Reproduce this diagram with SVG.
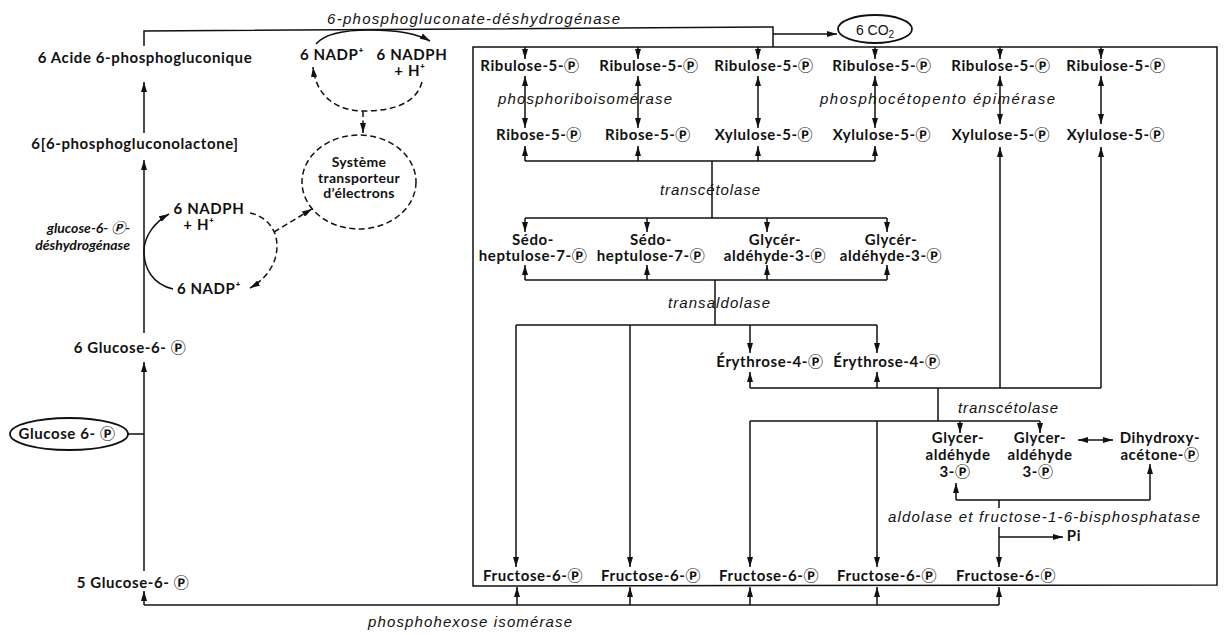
<svg xmlns="http://www.w3.org/2000/svg" width="1224" height="635" viewBox="0 0 1224 635">
<style>
.b{font-family:Lato,'DejaVu Sans','Noto Sans CJK JP',sans-serif;font-weight:700;font-size:15px;fill:#111;text-anchor:middle;letter-spacing:0.6px}
.bi{font-family:Lato,'DejaVu Sans','Noto Sans CJK JP',sans-serif;font-weight:700;font-style:italic;font-size:14px;fill:#111;text-anchor:end}
.i{font-family:'Liberation Sans',Arial,sans-serif;font-style:italic;font-size:15px;fill:#111}
.l{fill:none;stroke:#111;stroke-width:1.5}
.d{fill:none;stroke:#111;stroke-width:1.5;stroke-dasharray:6 3.5}
.e{fill:#fff;stroke:#111;stroke-width:1.8}
.s{font-family:'Liberation Sans',Arial,sans-serif;font-size:14px;fill:#111;text-anchor:middle}
</style>
<defs>
<marker id="a" viewBox="0 0 10 10" refX="10" refY="5" markerWidth="10" markerHeight="6" markerUnits="userSpaceOnUse" orient="auto-start-reverse" preserveAspectRatio="none"><path d="M0,0 L10,5 L0,10 z" fill="#111"/></marker>
</defs>
<rect width="1224" height="635" fill="#fff"/>

<g id="connectors">
<!-- top -->
<path class="l" d="M144,46 L144,31 L773,27 L773,47"/>
<path class="l" d="M773,34 L837,34" marker-end="url(#a)"/>
<path class="l" d="M473,47 H1217 V585 L473,586 Z"/>
<path class="l" d="M525,47 V59" marker-end="url(#a)"/>
<path class="l" d="M638,47 V59" marker-end="url(#a)"/>
<path class="l" d="M758,47 V59" marker-end="url(#a)"/>
<path class="l" d="M875,47 V59" marker-end="url(#a)"/>
<path class="l" d="M1000,47 V59" marker-end="url(#a)"/>
<path class="l" d="M1101,47 V59" marker-end="url(#a)"/>
<!-- ribulose <-> ribose/xylulose -->
<path class="l" d="M525,76 V128" marker-start="url(#a)" marker-end="url(#a)"/>
<path class="l" d="M638,76 V128" marker-start="url(#a)" marker-end="url(#a)"/>
<path class="l" d="M758,76 V128" marker-start="url(#a)" marker-end="url(#a)"/>
<path class="l" d="M875,76 V128" marker-start="url(#a)" marker-end="url(#a)"/>
<path class="l" d="M1000,76 V124" marker-start="url(#a)" marker-end="url(#a)"/>
<path class="l" d="M1101,76 V124" marker-start="url(#a)" marker-end="url(#a)"/>
<!-- transcetolase 1 -->
<path class="l" d="M525,161 H875 M712,161 V218"/>
<path class="l" d="M525,161 V146" marker-end="url(#a)"/>
<path class="l" d="M638,161 V146" marker-end="url(#a)"/>
<path class="l" d="M758,161 V146" marker-end="url(#a)"/>
<path class="l" d="M875,161 V146" marker-end="url(#a)"/>
<path class="l" d="M525,218 H887"/>
<path class="l" d="M525,218 V232" marker-end="url(#a)"/>
<path class="l" d="M647,218 V232" marker-end="url(#a)"/>
<path class="l" d="M767,218 V232" marker-end="url(#a)"/>
<path class="l" d="M887,218 V232" marker-end="url(#a)"/>
<!-- transaldolase -->
<path class="l" d="M525,280 H887 M715,280 V325 M516,325 H877"/>
<path class="l" d="M525,280 V265" marker-end="url(#a)"/>
<path class="l" d="M647,280 V265" marker-end="url(#a)"/>
<path class="l" d="M767,280 V265" marker-end="url(#a)"/>
<path class="l" d="M887,280 V265" marker-end="url(#a)"/>
<path class="l" d="M516,325 V567" marker-end="url(#a)"/>
<path class="l" d="M630,325 V567" marker-end="url(#a)"/>
<path class="l" d="M750,325 V353" marker-end="url(#a)"/>
<path class="l" d="M877,325 V353" marker-end="url(#a)"/>
<!-- transcetolase 2 -->
<path class="l" d="M750,388 H1101 M938,388 V421 M750,421 H1040"/>
<path class="l" d="M750,388 V372" marker-end="url(#a)"/>
<path class="l" d="M877,388 V372" marker-end="url(#a)"/>
<path class="l" d="M1000,388 V147" marker-end="url(#a)"/>
<path class="l" d="M1101,388 V147" marker-end="url(#a)"/>
<path class="l" d="M750,421 V567" marker-end="url(#a)"/>
<path class="l" d="M877,421 V567" marker-end="url(#a)"/>
<path class="l" d="M960,421 V433" marker-end="url(#a)"/>
<path class="l" d="M1040,421 V433" marker-end="url(#a)"/>
<path class="l" d="M1078,440 H1113" marker-start="url(#a)" marker-end="url(#a)"/>
<!-- aldolase -->
<path class="l" d="M956,500 H1150 M999,500 V508"/>
<path class="l" d="M956,500 V483" marker-end="url(#a)"/>
<path class="l" d="M1150,500 V464" marker-end="url(#a)"/>
<path class="l" d="M999,527 V567" marker-end="url(#a)"/>
<path class="l" d="M999,537 H1063" marker-end="url(#a)"/>
<!-- phosphohexose isomerase -->
<path class="l" d="M144,605 H999"/>
<path class="l" d="M517,605 V587" marker-end="url(#a)"/>
<path class="l" d="M630,605 V587" marker-end="url(#a)"/>
<path class="l" d="M750,605 V587" marker-end="url(#a)"/>
<path class="l" d="M877,605 V587" marker-end="url(#a)"/>
<path class="l" d="M999,605 V587" marker-end="url(#a)"/>
<path class="l" d="M144,605 V591" marker-end="url(#a)"/>
<!-- left column -->
<path class="l" d="M144,571 V362" marker-end="url(#a)"/>
<path class="l" d="M128,434 H144"/>
<path class="l" d="M144,333 V160" marker-end="url(#a)"/>
<path class="l" d="M144,133 V82" marker-end="url(#a)"/>
<!-- NADP cycles -->
<path class="l" d="M173,289 C152,284 144,268 144,251 C144,236 155,222 169,214" marker-end="url(#a)"/>
<path class="d" d="M250,213 C265,216 277,228 277,246 C277,264 266,279 250,288" marker-end="url(#a)"/>
<path class="d" d="M274,232 L312,209" marker-end="url(#a)"/>
<path class="l" d="M316,44 C325,33 348,30 370,30 C395,30 416,33 430,41" marker-end="url(#a)"/>
<path class="d" d="M422,82 C416,104 392,111 364,111 C336,111 316,96 313,67" marker-end="url(#a)"/>
<path class="d" d="M363,111 V133" marker-end="url(#a)"/>
</g>

<g id="enzymes">
<text class="i" x="327" y="24" textLength="293" lengthAdjust="spacing">6-phosphogluconate-déshydrogénase</text>
<text class="i" x="498" y="104" textLength="174" lengthAdjust="spacing">phosphoriboisomérase</text>
<text class="i" x="820" y="104" textLength="235" lengthAdjust="spacing">phosphocétopento  épimérase</text>
<text class="i" x="660" y="195" textLength="100" lengthAdjust="spacing">transcétolase</text>
<text class="i" x="668" y="308" textLength="102" lengthAdjust="spacing">transaldolase</text>
<text class="i" x="958" y="413" textLength="100" lengthAdjust="spacing">transcétolase</text>
<text class="i" x="888" y="522" textLength="312" lengthAdjust="spacing">aldolase et fructose-1-6-bisphosphatase</text>
<text class="i" x="368" y="627" textLength="204" lengthAdjust="spacing">phosphohexose isomérase</text>
<text class="bi" x="130" y="233">glucose-6- Ⓟ-</text>
<text class="bi" x="130" y="250">déshydrogénase</text>
</g>

<g id="n-acide"><text class="b" x="145" y="63">6 Acide 6-phosphogluconique</text></g>
<g id="n-lactone"><text class="b" x="135" y="149">6[6-phosphogluconolactone]</text></g>
<g id="n-g6p6"><text class="b" x="130" y="353">6 Glucose-6- Ⓟ</text></g>
<g id="n-g6p"><ellipse class="e" cx="69" cy="434" rx="59" ry="16"/><text class="b" x="67" y="439">Glucose 6- Ⓟ</text></g>
<g id="n-g6p5"><text class="b" x="133" y="588">5 Glucose-6- Ⓟ</text></g>
<g id="n-nadph1"><text class="b" x="209" y="214">6 NADPH</text><text class="b" x="199" y="230">+ H⁺</text></g>
<g id="n-nadp1"><text class="b" x="209" y="294">6 NADP⁺</text></g>
<g id="n-nadp2"><text class="b" x="332" y="60">6 NADP⁺</text></g>
<g id="n-nadph2"><text class="b" x="412" y="60">6 NADPH</text><text class="b" x="410" y="76">+ H⁺</text></g>
<g id="n-electrons"><ellipse class="d" cx="359" cy="182" rx="57" ry="47"/><text class="b" x="359" y="167" style="font-size:14px;letter-spacing:0.3px">Système</text><text class="b" x="359" y="183" style="font-size:14px;letter-spacing:0.3px">transporteur</text><text class="b" x="359" y="198" style="font-size:14px;letter-spacing:0.3px">d’électrons</text></g>
<g id="n-co2"><ellipse class="e" cx="875" cy="29" rx="37" ry="14"/><text class="s" x="875" y="35">6 CO<tspan font-size="10" dy="3">2</tspan></text></g>

<g id="n-ribulose"><text class="b" x="530" y="71">Ribulose-5-Ⓟ</text><text class="b" x="649" y="71">Ribulose-5-Ⓟ</text><text class="b" x="764" y="71">Ribulose-5-Ⓟ</text><text class="b" x="882" y="71">Ribulose-5-Ⓟ</text><text class="b" x="1001" y="71">Ribulose-5-Ⓟ</text><text class="b" x="1116" y="71">Ribulose-5-Ⓟ</text></g>
<g id="n-row2"><text class="b" x="539" y="140">Ribose-5-Ⓟ</text><text class="b" x="648" y="140">Ribose-5-Ⓟ</text><text class="b" x="764" y="140">Xylulose-5-Ⓟ</text><text class="b" x="882" y="140">Xylulose-5-Ⓟ</text><text class="b" x="1001" y="140">Xylulose-5-Ⓟ</text><text class="b" x="1116" y="140">Xylulose-5-Ⓟ</text></g>
<g id="n-row3"><text class="b" x="533" y="245">Sédo-</text><text class="b" x="533" y="261">heptulose-7-Ⓟ</text><text class="b" x="651" y="245">Sédo-</text><text class="b" x="651" y="261">heptulose-7-Ⓟ</text><text class="b" x="775" y="245">Glycér-</text><text class="b" x="775" y="261">aldéhyde-3-Ⓟ</text><text class="b" x="891" y="245">Glycér-</text><text class="b" x="891" y="261">aldéhyde-3-Ⓟ</text></g>
<g id="n-erythrose"><text class="b" x="770" y="367">Érythrose-4-Ⓟ</text><text class="b" x="887" y="367">Érythrose-4-Ⓟ</text></g>
<g id="n-row5"><text class="b" x="958" y="443">Glycer-</text><text class="b" x="958" y="460">aldéhyde</text><text class="b" x="955" y="477">3-Ⓟ</text><text class="b" x="1040" y="443">Glycer-</text><text class="b" x="1040" y="460">aldéhyde</text><text class="b" x="1038" y="477">3-Ⓟ</text><text class="b" x="1160" y="443">Dihydroxy-</text><text class="b" x="1160" y="460">acétone-Ⓟ</text></g>
<g id="n-pi"><text class="b" x="1074" y="541">Pi</text></g>
<g id="n-fructose"><text class="b" x="533" y="581">Fructose-6-Ⓟ</text><text class="b" x="651" y="581">Fructose-6-Ⓟ</text><text class="b" x="769" y="581">Fructose-6-Ⓟ</text><text class="b" x="887" y="581">Fructose-6-Ⓟ</text><text class="b" x="1006" y="581">Fructose-6-Ⓟ</text></g>
</svg>
